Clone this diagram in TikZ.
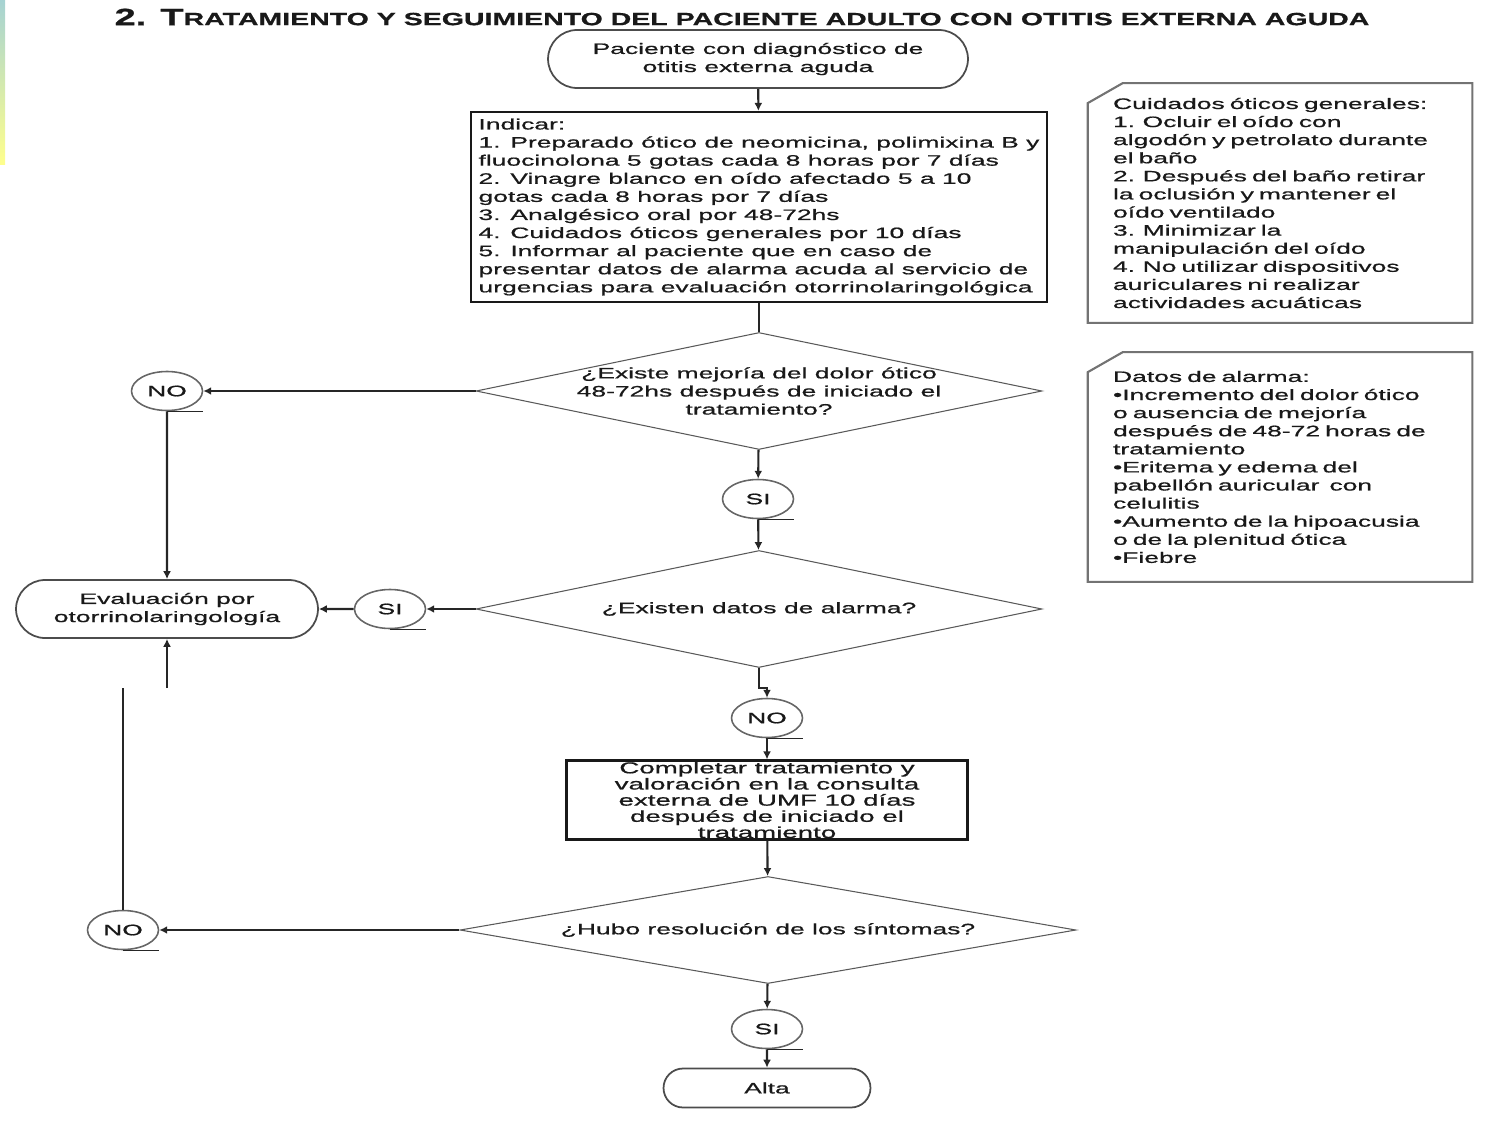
\documentclass[tikz,border=0pt]{standalone}
\usepackage{graphicx}
\usepackage{fontspec}
\setmainfont{Liberation Sans}[FakeStretch=1.75, FakeBold=0.8]
\usetikzlibrary{shapes.geometric,shapes.misc,arrows.meta}

\begin{document}
\begin{tikzpicture}[x=0.02cm, y=0.02cm,
	every node/.style={font=\fontsize{8.6}{10.3}\selectfont, text=black!90},
	term/.style={shape=rounded rectangle, draw=black!70, line width=1pt, align=center, inner sep=0pt},
	answer/.style={shape=ellipse, draw=black!60, line width=0.9pt, minimum width=1.42cm, minimum height=0.78cm, inner sep=0pt},
	question/.style={shape=diamond, draw=black!65, line width=0.6pt, align=center, inner sep=-0.15cm},
	todo/.style={shape=rectangle, draw=black!90, line width=1.3pt, inner sep=0pt},
	aside/.style={text width=6.68cm, inner xsep=0.5cm, inner ysep=0pt, align=left, minimum width=7.68cm},
	note/.style={draw=black!55, line width=1.2pt},
	flow/.style={-{Latex[length=4.5pt,width=4.5pt]}, line width=1.2pt, black!85},
	link/.style={line width=1.2pt, black!85}]
	
	\useasboundingbox (0,0) rectangle (1500,-1125);
	\shade[top color=teal!35, bottom color=yellow!45] (0,0) rectangle (5,-165);
	
	\node (title) at (742, -17) {\resizebox{25.1cm}{0.33cm}{\bfseries\fontsize{14}{14}\selectfont 2. T\fontsize{10.5}{10.5}\selectfont RATAMIENTO Y SEGUIMIENTO DEL PACIENTE ADULTO CON OTITIS EXTERNA AGUDA}};
	
	\node[term, minimum width=8.4cm, minimum height=1.16cm] (start) at (758, -59) {Paciente con diagnóstico de\\otitis externa aguda};
	\node[todo, minimum width=11.52cm, minimum height=3.8cm, align=left] (indicar) at (759, -207) {Indicar:\\1. Preparado ótico de neomicina, polimixina B y\\fluocinolona 5 gotas cada 8 horas por 7 días\\2. Vinagre blanco en oído afectado 5 a 10\\gotas cada 8 horas por 7 días\\3. Analgésico oral por 48-72hs\\4. Cuidados óticos generales por 10 días\\5. Informar al paciente que en caso de\\presentar datos de alarma acuda al servicio de\\urgencias para evaluación otorrinolaringológica};
	\node[question, aspect=4.84, minimum width=11.32cm, minimum height=2.34cm] (mejoria) at (759, -391) {¿Existe mejoría del dolor ótico\\48-72hs después de iniciado el\\tratamiento?};
	\node[answer] (no1) at (167, -391) {NO};
	\node[answer] (si1) at (758, -499) {SI};
	\node[question, aspect=4.84, minimum width=11.32cm, minimum height=2.34cm] (alarma) at (759, -609) {¿Existen datos de alarma?};
	\node[answer] (si2) at (390, -609) {SI};
	\node[term, minimum width=6.04cm, minimum height=1.16cm] (eval) at (167, -609) {Evaluación por\\otorrinolaringología};
	\node[answer] (no2) at (767, -718) {NO};
	\node[todo, minimum width=8.02cm, minimum height=1.58cm, align=center, font=\fontsize{9}{9.2}\selectfont] (completar) at (767, -800) {Completar tratamiento y\\valoración en la consulta\\externa de UMF 10 días\\después de iniciado el\\tratamiento};
	\node[question, aspect=5.76, minimum width=12.32cm, minimum height=2.14cm] (resolucion) at (768, -930) {¿Hubo resolución de los síntomas?};
	\node[answer] (no3) at (123, -930) {NO};
	\node[answer] (si3) at (767, -1029) {SI};
	\node[term, minimum width=4.14cm, minimum height=0.78cm] (alta) at (767, -1088) {Alta};
	
	\node[aside, minimum height=4.78cm] (cuidados) at (1280, -203) {Cuidados óticos generales:\\1. Ocluir el oído con\\algodón y petrolato durante\\el baño\\2. Después del baño retirar\\la oclusión y mantener el\\oído ventilado\\3. Minimizar la\\manipulación del oído\\4. No utilizar dispositivos\\auriculares ni realizar\\actividades acuáticas};
	\node[aside, minimum height=4.58cm] (datos) at (1280, -467) {Datos de alarma:\\•Incremento del dolor ótico\\o ausencia de mejoría\\después de 48-72 horas de\\tratamiento\\•Eritema y edema del\\pabellón auricular\ \ con\\celulitis\\•Aumento de la hipoacusia\\o de la plenitud ótica\\•Fiebre};
	\foreach \nt in {cuidados, datos}
		\draw[note] ([yshift=-0.4cm]\nt.north west) -- ([xshift=0.7cm]\nt.north west) -- (\nt.north east) -- (\nt.south east) -- (\nt.south west) -- cycle;
	
	\coordinate (up1) at (123, -688);
	\coordinate (up2) at (167, -688);
	
	\path[flow] (start) edge (indicar);
	\path[link] (indicar) edge (mejoria);
	\path[flow] (mejoria) edge (no1);
	\path[flow] (no1) edge (eval);
	\path[flow] (mejoria) edge (si1);
	\path[flow] (si1) edge (alarma);
	\path[flow] (alarma) edge (si2);
	\path[flow] (si2) edge (eval);
	\draw[flow] (alarma.south) -- ++(0,-20) -| (no2.north);
	\path[flow] (no2) edge (completar);
	\path[flow] (completar) edge (resolucion);
	\path[flow] (resolucion) edge (no3);
	\draw[link] (no3.north) -- (up1);
	\draw[flow] (up2) -- (eval.south);
	\path[flow] (resolucion) edge (si3);
	\path[flow] (si3) edge (alta);
	
	\foreach \n in {no1, si1, si2, no2, no3, si3}
		\draw[black!85, line width=0.8pt] (\n.south) -- ++(36,0);

\end{tikzpicture}
\end{document}
